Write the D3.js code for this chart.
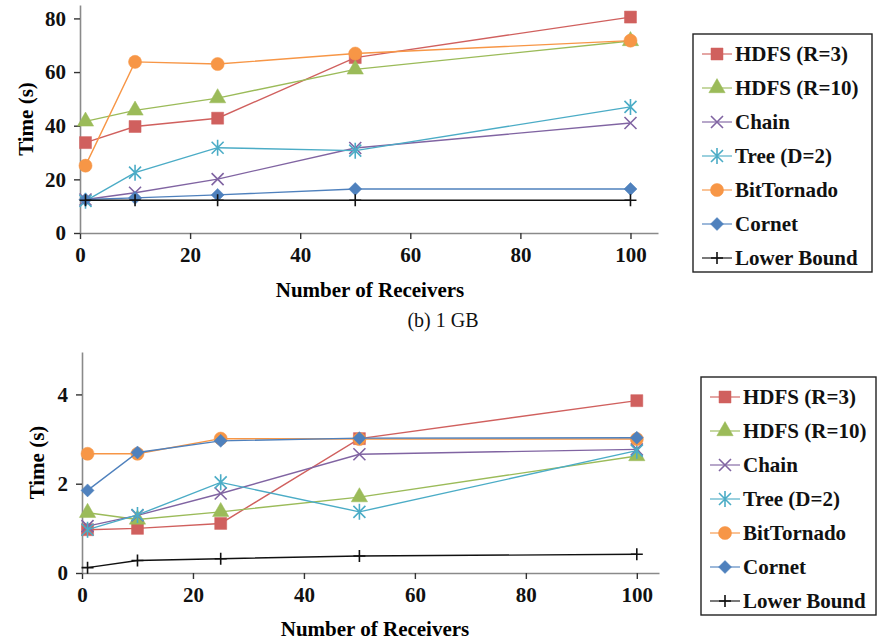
<!DOCTYPE html>
<html>
<head>
<meta charset="utf-8">
<script src="https://cdn.jsdelivr.net/npm/d3@7"></script>
<style>
  body { margin: 0; background: #fff; }
  svg { display: block; }
  .tick text { font-family: "Liberation Serif", "Times New Roman", serif; font-weight: bold; font-size: 21px; fill: #111; }
  .axis path.domain { stroke: #8a8a8a; stroke-width: 1.6; }
  .axis .tick line { stroke: #333; stroke-width: 1.4; }
</style>
</head>
<body>
<svg id="chart" width="878" height="640"></svg>
<script>
// x values (number of receivers)
var receivers = [1, 10, 25, 50, 100];
var seriesNames = ["HDFS (R=3)", "HDFS (R=10)", "Chain", "Tree (D=2)", "BitTornado", "Cornet", "Lower Bound"];
var seriesColors = ["#d0605e", "#9bbb59", "#8064a2", "#4bacc6", "#f79646", "#4f81bd", "#111111"];
var seriesMarkers = ["square", "triangle", "cross", "star", "circle", "diamond", "plus"];

// (b) 1 GB
var hdfs3_1GB  = [33.7, 39.7, 42.8, 65.4, 80.5];
var hdfs10_1GB = [41.6, 45.7, 50.3, 61.0, 71.6];
var chain_1GB  = [12.5, 15.0, 20.1, 31.7, 41.0];
var tree_1GB   = [12.0, 22.5, 31.8, 30.7, 47.0];
var bitt_1GB   = [25.1, 63.8, 63.0, 66.9, 71.7];
var cornet_1GB = [12.5, 13.1, 14.2, 16.4, 16.4];
var lower_1GB  = [12.2, 12.2, 12.2, 12.2, 12.2];
var yTicks_1GB = [0, 20, 40, 60, 80];

// second panel
var hdfs3_2  = [0.97, 1.00, 1.11, 3.01, 3.86];
var hdfs10_2 = [1.35, 1.20, 1.37, 1.70, 2.62];
var chain_2  = [1.05, 1.29, 1.78, 2.66, 2.77];
var tree_2   = [0.97, 1.30, 2.03, 1.37, 2.74];
var bitt_2   = [2.67, 2.67, 3.01, 3.00, 3.00];
var cornet_2 = [1.85, 2.70, 2.96, 3.02, 3.03];
var lower_2  = [0.12, 0.28, 0.32, 0.38, 0.42];
var yTicks_2 = [0, 2, 4];

var xTicks = [0, 20, 40, 60, 80, 100];

var svg = d3.select("#chart");
var serif = "'Liberation Serif', 'Times New Roman', serif";

function markerPath(kind) {
    var r = 6;
    if (kind == "square") return d3.symbol().type(d3.symbolSquare).size(144)();
    if (kind == "triangle") return d3.symbol().type(d3.symbolTriangle).size(115)();
    if (kind == "circle") return d3.symbol().type(d3.symbolCircle).size(135)();
    if (kind == "diamond") return "M0,-6.5L6.5,0L0,6.5L-6.5,0Z";
    if (kind == "cross") return "M" + (-r) + "," + (-r) + "L" + r + "," + r + "M" + (-r) + "," + r + "L" + r + "," + (-r);
    if (kind == "star") return "M" + (-r) + "," + (-r) + "L" + r + "," + r + "M" + (-r) + "," + r + "L" + r + "," + (-r) + "M0," + (-r - 2) + "L0," + (r + 2);
    return "M" + (-r) + ",0L" + r + ",0M0," + (-r) + "L0," + r;
}

function drawMarker(g, kind, color, x, y) {
    var filled = ["square", "triangle", "circle", "diamond"].indexOf(kind) >= 0;
    g.append("path")
        .attr("d", markerPath(kind))
        .attr("transform", "translate(" + x + "," + y + ")")
        .attr("fill", filled ? color : "none")
        .attr("stroke", color)
        .attr("stroke-width", filled ? 0.5 : 1.6);
}

function drawPanel(cfg) {
    var x = d3.scaleLinear().domain([0, cfg.xMax]).range([cfg.left, cfg.right]);
    var y = d3.scaleLinear().domain([0, cfg.yMax]).range([cfg.bottom, cfg.top]);

    svg.append("g")
        .attr("class", "axis")
        .attr("transform", "translate(0," + cfg.bottom + ")")
        .call(d3.axisBottom(x).tickValues(xTicks).tickFormat(d3.format("d"))
            .tickSize(6).tickSizeOuter(0).tickPadding(8));

    svg.append("g")
        .attr("class", "axis")
        .attr("transform", "translate(" + cfg.left + ",0)")
        .call(d3.axisLeft(y).tickValues(cfg.yTicks).tickFormat(d3.format("d"))
            .tickSize(6).tickSizeOuter(0).tickPadding(8));

    var line = d3.line()
        .x(function(d) { return x(d.x); })
        .y(function(d) { return y(d.y); });

    cfg.series.forEach(function(vals, i) {
        var pts = vals.map(function(v, j) { return {x: receivers[j], y: v}; });
        var g = svg.append("g");
        g.append("path")
            .datum(pts)
            .attr("d", line)
            .attr("fill", "none")
            .attr("stroke", seriesColors[i])
            .attr("stroke-width", 1.4);
        pts.forEach(function(p) {
            drawMarker(g, seriesMarkers[i], seriesColors[i], x(p.x), y(p.y));
        });
    });

    // axis names
    svg.append("text")
        .attr("transform", "translate(" + cfg.yLabelX + "," + (cfg.top + cfg.bottom) / 2 + ") rotate(-90)")
        .attr("text-anchor", "middle")
        .attr("dy", "0.35em")
        .style("font-family", serif)
        .style("font-weight", "bold")
        .style("font-size", "21px")
        .text("Time (s)");

    svg.append("text")
        .attr("x", cfg.xLabelX)
        .attr("y", cfg.xLabelY)
        .attr("text-anchor", "middle")
        .attr("dy", "0.35em")
        .style("font-family", serif)
        .style("font-weight", "bold")
        .style("font-size", "21px")
        .text("Number of Receivers");

    // legend
    var lg = svg.append("g");
    lg.append("rect")
        .attr("x", cfg.legX)
        .attr("y", cfg.legY)
        .attr("width", cfg.legW)
        .attr("height", cfg.legH)
        .attr("fill", "#fff")
        .attr("stroke", "#222")
        .attr("stroke-width", 1.4);
    seriesNames.forEach(function(name, i) {
        var cy = cfg.legY + 20 + i * 34;
        var x0 = cfg.legX + 9;
        lg.append("line")
            .attr("x1", x0).attr("x2", x0 + 30)
            .attr("y1", cy).attr("y2", cy)
            .attr("stroke", seriesColors[i])
            .attr("stroke-width", 1.4)
            .attr("opacity", 0.8);
        drawMarker(lg, seriesMarkers[i], seriesColors[i], x0 + 15, cy);
        lg.append("text")
            .attr("x", x0 + 33)
            .attr("y", cy)
            .attr("dy", "0.35em")
            .style("font-family", serif)
            .style("font-weight", "bold")
            .style("font-size", "21px")
            .style("fill", "#111")
            .text(name);
    });
}

drawPanel({
    left: 80, right: 658, top: 5, bottom: 233,
    xMax: 105, yMax: 85, yTicks: yTicks_1GB,
    series: [hdfs3_1GB, hdfs10_1GB, chain_1GB, tree_1GB, bitt_1GB, cornet_1GB, lower_1GB],
    yLabelX: 26, xLabelX: 370, xLabelY: 290,
    legX: 693, legY: 34, legW: 179, legH: 238
});

drawPanel({
    left: 82, right: 659, top: 352, bottom: 573,
    xMax: 104, yMax: 4.95, yTicks: yTicks_2,
    series: [hdfs3_2, hdfs10_2, chain_2, tree_2, bitt_2, cornet_2, lower_2],
    yLabelX: 37, xLabelX: 375, xLabelY: 629,
    legX: 701, legY: 377, legW: 175, legH: 238
});

svg.append("text")
    .attr("x", 443)
    .attr("y", 320)
    .attr("text-anchor", "middle")
    .attr("dy", "0.35em")
    .style("font-family", serif)
    .style("font-size", "20px")
    .style("fill", "#111")
    .text("(b) 1 GB");
</script>
</body>
</html>
